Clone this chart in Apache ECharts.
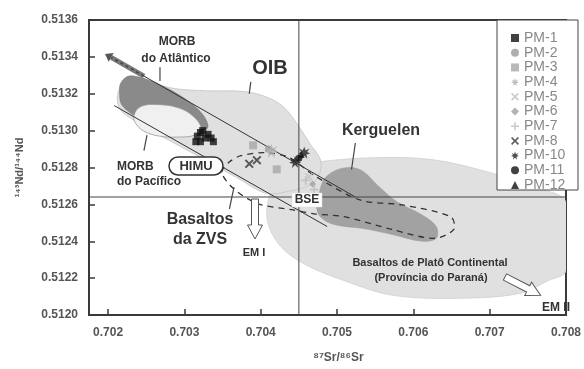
<!DOCTYPE html>
<html><head><meta charset="utf-8">
<script src="https://cdn.jsdelivr.net/npm/echarts@6/dist/echarts.min.js"></script>
<style>html,body{margin:0;padding:0;background:#fff}#c{width:584px;height:369px}</style>
</head><body><div id="c"></div>
<script>
// ---- axis ticks ----
const xTicks = [0.702, 0.703, 0.704, 0.705, 0.706, 0.707, 0.708];
const yMin = 0.5120, yMax = 0.5136, yStep = 0.0002;
// ---- reference values ----
const bseSr = 0.7045;
const bseNd = 0.51264;
// ---- sample series ----
const names = ['PM-1','PM-2','PM-3','PM-4','PM-5','PM-6','PM-7','PM-8','PM-10','PM-11','PM-12'];
const pm1 = [[0.70315,0.51294],[0.70317,0.51297],[0.70321,0.51299],[0.70324,0.51300],[0.70327,0.51296],[0.70331,0.51298],[0.70335,0.51296],[0.70338,0.51294],[0.70321,0.51294]];
const pm2 = [[0.70410,0.51290]];
const pm3 = [[0.70390,0.51292],[0.70421,0.51279]];
const pm4 = [[0.70414,0.51289]];
const pm5 = [[0.70463,0.51275]];
const pm6 = [[0.70468,0.51271]];
const pm7 = [[0.70459,0.51273],[0.70470,0.51268]];
const pm8 = [[0.70385,0.51282],[0.70395,0.51284]];
const pm10 = [[0.70445,0.51283],[0.70457,0.51288]];
const pm11 = [[0.70450,0.51285]];
const pm12 = [[0.70453,0.51287]];
// ---- reference fields (outlines) ----
const oibField = [[0.70212,0.513173],[0.70217,0.513237],[0.70234,0.513269],[0.70253,0.513259],[0.70289,0.513227],[0.70330,0.513216],[0.70381,0.513211],[0.70413,0.513173],[0.70432,0.513120],[0.70447,0.513040],[0.70464,0.512933],[0.70479,0.512827],[0.70470,0.512720],[0.70432,0.512667],[0.70406,0.512661],[0.70368,0.512747],[0.70317,0.512864],[0.70272,0.512965],[0.70234,0.513056],[0.70217,0.513109]];
const paranaField = [[0.70411,0.512640],[0.70422,0.512720],[0.70438,0.512789],[0.70470,0.512827],[0.70547,0.512853],[0.70624,0.512843],[0.70700,0.512773],[0.70758,0.512693],[0.70800,0.512613],[0.70800,0.512240],[0.70777,0.512187],[0.70739,0.512117],[0.70662,0.512091],[0.70573,0.512107],[0.70509,0.512187],[0.70457,0.512277],[0.70426,0.512373],[0.70409,0.512507]];
const morbAtlantic = [[0.70215,0.513200],[0.70216,0.513253],[0.70224,0.513291],[0.70234,0.513296],[0.70253,0.513275],[0.70279,0.513227],[0.70304,0.513163],[0.70323,0.513093],[0.70331,0.513029],[0.70327,0.513003],[0.70304,0.513024],[0.70266,0.513077],[0.70238,0.513077],[0.70225,0.513109],[0.70217,0.513147]];
const morbPacific = [[0.70234,0.513083],[0.70243,0.513131],[0.70266,0.513141],[0.70291,0.513125],[0.70310,0.513083],[0.70322,0.513013],[0.70314,0.512976],[0.70291,0.512965],[0.70266,0.512971],[0.70247,0.512997],[0.70236,0.513040]];
const kerguelen = [[0.70473,0.512597],[0.70477,0.512667],[0.70483,0.512736],[0.70498,0.512784],[0.70518,0.512800],[0.70534,0.512779],[0.70553,0.512704],[0.70579,0.512613],[0.70611,0.512544],[0.70630,0.512480],[0.70630,0.512416],[0.70611,0.512400],[0.70572,0.512437],[0.70534,0.512469],[0.70496,0.512491],[0.70478,0.512533]];
const zvsField = [[0.70349,0.512773],[0.70358,0.512827],[0.70374,0.512864],[0.70406,0.512880],[0.70438,0.512853],[0.70470,0.512757],[0.70530,0.512624],[0.70585,0.512597],[0.70649,0.512533],[0.70653,0.512464],[0.70627,0.512416],[0.70572,0.512464],[0.70509,0.512533],[0.70470,0.512549],[0.70441,0.512571],[0.70397,0.512603],[0.70365,0.512683]];
// ---- trend lines & leaders ----
const upperLine = [[0.70247,0.513296],[0.70524,0.512640]];
const lowerLine = [[0.70208,0.513136],[0.70487,0.512480]];
const morbArrow = [[0.70247,0.513296],[0.70204,0.513397]];
const leaders = [
  [[0.70268,0.513344],[0.70268,0.513269]],
  [[0.70387,0.513264],[0.70385,0.513200]],
  [[0.70524,0.512933],[0.70519,0.512789]],
  [[0.70247,0.512891],[0.70251,0.512976]],
  [[0.70359,0.512576],[0.70365,0.512693]]
];

const FONT = '"Liberation Sans", Arial, "DejaVu Sans", sans-serif';
const SYM_X = 'path://M1.5,0L5,3.5L8.5,0L10,1.5L6.5,5L10,8.5L8.5,10L5,6.5L1.5,10L0,8.5L3.5,5L0,1.5Z';
const SYM_PLUS = 'path://M4,0H6V4H10V6H6V10H4V6H0V4H4Z';
const SYM_STAR = 'path://M5,0L6.2,3.2L9.3,1.4L7.4,4.4L10,5.6L6.8,6.4L7.6,10L5,7.6L2.4,10L3.2,6.4L0,5.6L2.6,4.4L0.7,1.4L3.8,3.2Z';

function fieldSeries(pts, style, z, smooth) {
  return {
    type: 'custom', coordinateSystem: 'cartesian2d', silent: true, z: z, clip: true,
    data: [pts[0]],
    renderItem: function (params, api) {
      return { type: 'polygon', shape: { points: pts.map(function (p) { return api.coord(p); }), smooth: smooth }, style: style };
    }
  };
}
function lineSeries(lines, style, z) {
  return {
    type: 'custom', coordinateSystem: 'cartesian2d', silent: true, z: z, clip: true,
    data: lines.map(function (l) { return l[0]; }),
    renderItem: function (params, api) {
      const l = lines[params.dataIndex];
      return { type: 'polyline', shape: { points: l.map(function (p) { return api.coord(p); }) }, style: style };
    }
  };
}
function arrowSeries(seg, z) {
  return {
    type: 'custom', coordinateSystem: 'cartesian2d', silent: true, z: z,
    data: [seg[0]],
    renderItem: function (params, api) {
      const a = api.coord(seg[0]), b = api.coord(seg[1]);
      const dx = b[0] - a[0], dy = b[1] - a[1], L = Math.sqrt(dx*dx + dy*dy);
      const ux = dx / L, uy = dy / L;
      const tip = [b[0] + ux*7, b[1] + uy*7];
      const p1 = [b[0] - uy*5, b[1] + ux*5], p2 = [b[0] + uy*5, b[1] - ux*5];
      return { type: 'group', children: [
        { type: 'polyline', shape: { points: [a, b] }, style: { stroke: '#7a7a7a', lineWidth: 5 } },
        { type: 'polyline', shape: { points: [a, b] }, style: { stroke: '#444', lineWidth: 1.5, lineDash: [3, 3] } },
        { type: 'polygon', shape: { points: [tip, p1, p2] }, style: { fill: '#555' } }
      ]};
    }
  };
}
function scatter(name, data, symbol, size, color) {
  return { type: 'scatter', name: name, data: data, symbol: symbol, symbolSize: size, itemStyle: { color: color }, z: 6 };
}
function txt(text, x, y, size, align) {
  return { type: 'text', x: x, y: y, z: 20, silent: true,
    style: { text: text, font: 'bold ' + size + 'px ' + FONT, fill: '#333', align: align || 'center', verticalAlign: 'middle' } };
}
const arrowShape = [[0,-3.5],[26,-3.5],[26,-7.5],[40,0],[26,7.5],[26,3.5],[0,3.5]];

const chart = echarts.init(document.getElementById('c'), null, { renderer: 'canvas' });
chart.setOption({
  animation: false,
  backgroundColor: '#fff',
  grid: { left: 89, right: 6, top: 20, bottom: 49, show: true, borderColor: '#3a3a3a', borderWidth: 2, containLabel: false },
  xAxis: {
    type: 'value', min: 0.70175, max: 0.708,
    name: '\u2078\u2077Sr/\u2078\u2076Sr', nameLocation: 'middle', nameGap: 37,
    nameTextStyle: { fontSize: 12, fontWeight: 'bold', color: '#555', fontFamily: FONT, padding: [0, 0, 0, 22] },
    axisLine: { show: true, lineStyle: { color: '#3a3a3a', width: 2 } },
    axisTick: { show: true, inside: true, length: 6, customValues: xTicks, lineStyle: { color: '#3a3a3a', width: 1.5 } },
    axisLabel: { customValues: xTicks, margin: 12, fontSize: 12, fontWeight: 'bold', color: '#555', fontFamily: FONT,
      formatter: function (v) { return v.toFixed(3); } },
    splitLine: { show: false }
  },
  yAxis: {
    type: 'value', min: yMin, max: yMax, interval: yStep,
    name: '\u00b9\u2074\u00b3Nd/\u00b9\u2074\u2074Nd', nameLocation: 'middle', nameGap: 64,
    nameTextStyle: { fontSize: 11, fontWeight: 'bold', color: '#555', fontFamily: FONT },
    axisLine: { show: true, lineStyle: { color: '#3a3a3a', width: 2 } },
    axisTick: { show: true, inside: true, length: 6, lineStyle: { color: '#3a3a3a', width: 1.5 } },
    axisLabel: { margin: 11, fontSize: 12, fontWeight: 'bold', color: '#555', fontFamily: FONT,
      formatter: function (v) { return v.toFixed(4); } },
    splitLine: { show: false }
  },
  legend: {
    data: names, orient: 'vertical', left: 506, top: 26, itemWidth: 8, itemHeight: 8, itemGap: 0.7,
    textStyle: { fontSize: 14, lineHeight: 14, color: '#888', fontFamily: FONT }, z: 30
  },
  graphic: [
    { type: 'rect', z: 25, silent: true, shape: { x: 497, y: 20, width: 81, height: 170 }, style: { fill: '#fff', stroke: '#444', lineWidth: 1 } },
    txt('MORB', 177, 42, 12), txt('do Atl\u00e2ntico', 176, 59, 12),
    txt('OIB', 270, 68, 20),
    txt('Kerguelen', 381, 131, 16),
    txt('MORB', 117, 167, 12, 'left'), txt('do Pac\u00edfico', 117, 182, 12, 'left'),
    txt('Basaltos', 200, 220, 16), txt('da ZVS', 200, 240, 16),
    txt('EM I', 254, 253, 11),
    { type: 'rect', z: 19, silent: true, shape: { x: 292, y: 193, width: 30, height: 14 }, style: { fill: '#fff', stroke: '#ddd', lineWidth: 0.5 } },
    txt('BSE', 307, 200, 12),
    txt('Basaltos de Plat\u00f4 Continental', 430, 263, 11),
    txt('(Prov\u00edncia do Paran\u00e1)', 431, 278, 11),
    txt('EM II', 556, 308, 12),
    { type: 'rect', z: 19, silent: true, shape: { x: 169, y: 157, width: 54, height: 18, r: 9 }, style: { fill: '#fff', stroke: '#333', lineWidth: 1.5 } },
    txt('HIMU', 196, 166, 13),
    { type: 'polygon', z: 19, silent: true, x: 255, y: 199, rotation: -Math.PI / 2, shape: { points: arrowShape }, style: { fill: '#fff', stroke: '#555', lineWidth: 1 } },
    { type: 'polygon', z: 19, silent: true, x: 505, y: 277, rotation: -0.475, shape: { points: arrowShape }, style: { fill: '#fff', stroke: '#555', lineWidth: 1 } }
  ],
  series: [
    fieldSeries(paranaField, { fill: '#e0e0e0', stroke: '#cfcfcf', lineWidth: 0.8 }, 1, 0.35),
    fieldSeries(oibField, { fill: '#e0e0e0', stroke: '#c4c4c4', lineWidth: 0.8 }, 1, 0.35),
    fieldSeries(morbAtlantic, { fill: '#8a8a8a', stroke: '#777', lineWidth: 0.5 }, 1, 0.35),
    fieldSeries(morbPacific, { fill: '#f0f0f0', stroke: '#999', lineWidth: 0.8 }, 1, 0.4),
    fieldSeries(kerguelen, { fill: '#a2a2a2', stroke: '#999', lineWidth: 0.5 }, 1, 0.35),
    fieldSeries(zvsField, { fill: 'none', stroke: '#333', lineWidth: 1.3, lineDash: [6, 5] }, 2, 0.3),
    lineSeries([upperLine, lowerLine], { stroke: '#333', lineWidth: 1 }, 3),
    lineSeries([[[bseSr, yMin], [bseSr, yMax]], [[0.70175, bseNd], [0.708, bseNd]]], { stroke: '#444', lineWidth: 1 }, 3),
    lineSeries(leaders, { stroke: '#444', lineWidth: 1.2 }, 3),
    arrowSeries(morbArrow, 3),
    scatter('PM-1', pm1, 'rect', 7, '#111'),
    scatter('PM-2', pm2, 'circle', 7, '#9a9a9a'),
    scatter('PM-3', pm3, 'rect', 8, '#a8a8a8'),
    scatter('PM-4', pm4, SYM_STAR, 14, '#b0b0b0'),
    scatter('PM-5', pm5, SYM_X, 8, '#c0c0c0'),
    scatter('PM-6', pm6, 'diamond', 7, '#a0a0a0'),
    scatter('PM-7', pm7, SYM_PLUS, 9, '#bdbdbd'),
    scatter('PM-8', pm8, SYM_X, 9, '#333'),
    scatter('PM-10', pm10, SYM_STAR, 12, '#222'),
    scatter('PM-11', pm11, 'circle', 7, '#111'),
    scatter('PM-12', pm12, 'triangle', 7, '#111')
  ]
});
</script>
</body></html>
